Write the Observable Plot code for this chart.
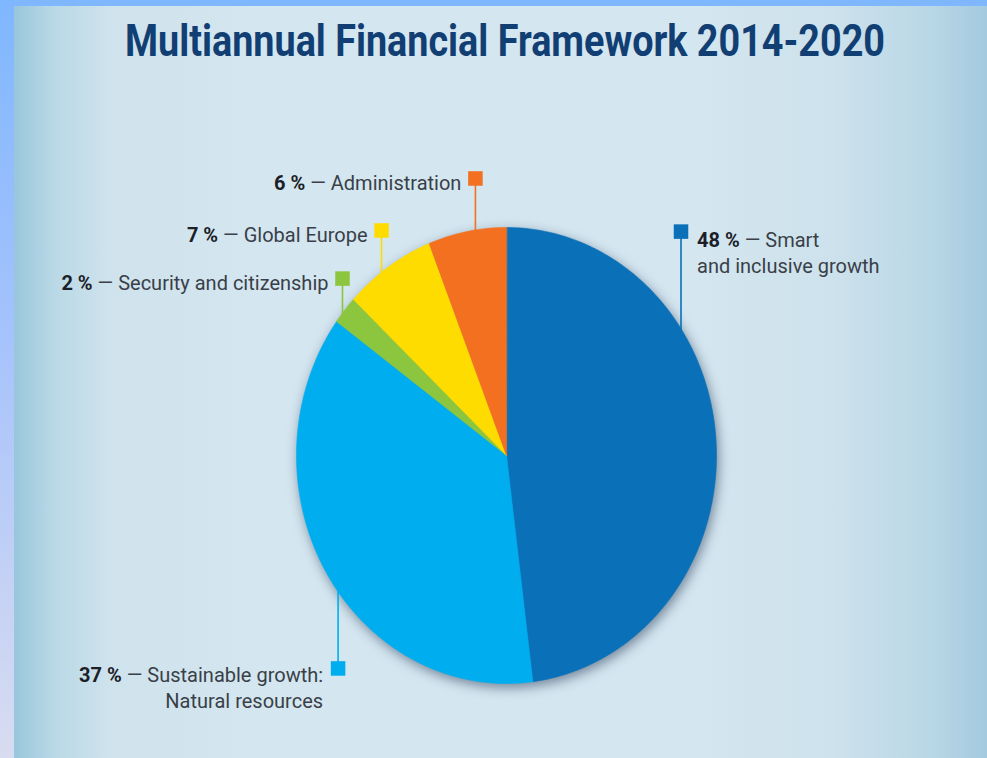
<!DOCTYPE html>
<html>
<head>
<meta charset="utf-8">
<script src="https://cdn.jsdelivr.net/npm/d3@7"></script>
<script src="https://cdn.jsdelivr.net/npm/@observablehq/plot@0.6"></script>
<style>
  html, body { margin: 0; padding: 0; }
  body {
    width: 987px; height: 758px; overflow: hidden; position: relative;
    background: linear-gradient(to bottom, #7fb7ff 0%, #a6c3fb 45%, #d8dcf0 100%);
    font-family: Roboto, "Open Sans", sans-serif;
  }
  #panel {
    position: absolute; left: 14px; top: 6px; width: 973px; height: 752px;
    background: linear-gradient(to right, #98c6dc 0%, #b9d8e6 4%, #cfe3ed 10%, #d4e6f0 25%, #d4e6f0 70%, #cde2ec 84%, #bad7e6 94%, #a3cadf 100%);
  }
  #content { position: absolute; left: 0; top: 0; width: 987px; height: 758px; }
  #title { height: 78px; margin: 0; position: relative; }
  #title span {
    position: absolute; left: 504.5px; top: 18px; white-space: nowrap;
    font-family: Roboto, sans-serif; font-weight: 700; font-size: 45px; line-height: 1;
    color: #123f73; transform-origin: center top;
  }
  #chart svg { display: block; overflow: visible; background: transparent; }
</style>
</head>
<body>
<div id="panel"></div>
<div id="content">
  <h1 id="title"><span>Multiannual Financial Framework 2014-2020</span></h1>
  <div id="chart"></div>
</div>
<script>
// ---- data ----
const categories = ["Smart and inclusive growth", "Sustainable growth: Natural resources", "Security and citizenship", "Global Europe", "Administration"];
const values = [48, 37, 2, 7, 6];
const labelNames = ["Smart\nand inclusive growth", "Sustainable growth:\nNatural resources", "Security and citizenship", "Global Europe", "Administration"];
const colors = ["#0a71b9", "#00adee", "#8cc63f", "#ffdc00", "#f37021"];

// ---- layout (label marker positions in pie-radius units) ----
const markerX = [0.831, -0.802, -0.781, -0.595, -0.148];
const markerY = [0.982, -0.934, 0.776, 0.987, 1.215];
const labelSide = ["right", "left", "left", "left", "left"];

// pie slice polygons on unit circle (stretched to an ellipse by the x/y scales)
const total = d3.sum(values);
const slices = [];
let cum = 0;
categories.forEach((c, i) => {
  const a0 = cum / total * 2 * Math.PI;
  cum += values[i];
  const a1 = cum / total * 2 * Math.PI;
  const n = Math.max(4, Math.ceil((a1 - a0) / (2 * Math.PI) * 360));
  const pts = [{cat: c, x: 0, y: 0}];
  for (let k = 0; k <= n; k++) {
    const a = a0 + (a1 - a0) * k / n;
    pts.push({cat: c, x: Math.sin(a), y: Math.cos(a)});
  }
  slices.push(pts);
});

const anchors = categories.map((c, i) => ({
  cat: c,
  x: markerX[i],
  y: markerY[i],
  yEdge: Math.sign(markerY[i]) * Math.sqrt(1 - markerX[i] ** 2) * 0.985,
  side: labelSide[i],
  multi: labelNames[i].includes("\n"),
  label: `${values[i]} % — ${labelNames[i]}`
}));

const textOpts = {x: "x", y: "y", text: "label", lineAnchor: "top", fontSize: 20, lineHeight: 1.3, fill: "#3a3f48", fontFamily: "Roboto, sans-serif"};

const W = 987, H = 680;
const chart = Plot.plot({
  width: W, height: H,
  marginLeft: 296, marginRight: 271, marginTop: 149, marginBottom: 75,
  x: {domain: [-1, 1], axis: null},
  y: {domain: [-1, 1], axis: null},
  color: {domain: categories, range: colors},
  style: {background: "transparent", overflow: "visible"},
  marks: [
    ...slices.map((pts, i) => Plot.line(pts, {x: "x", y: "y", fill: colors[i], stroke: colors[i], strokeWidth: 0.6, curve: "linear-closed"})),
    Plot.link(anchors, {x1: "x", y1: "y", x2: "x", y2: "yEdge", stroke: "cat", strokeWidth: 1.6}),
    Plot.dot(anchors, {x: "x", y: "y", symbol: "square", r: 8.2, fill: "cat", stroke: "none"}),
    Plot.text(anchors.filter(d => d.side === "left" && !d.multi), {...textOpts, textAnchor: "end", dx: -14, dy: -7}),
    Plot.text(anchors.filter(d => d.side === "left" && d.multi), {...textOpts, textAnchor: "end", dx: -15, dy: -5}),
    Plot.text(anchors.filter(d => d.side === "right"), {...textOpts, textAnchor: "start", dx: 16, dy: -3.5})
  ]
});
document.getElementById("chart").appendChild(chart);

// soft shadow around the pie
const lineGroups = chart.querySelectorAll('g[aria-label="line"]');
if (lineGroups.length) {
  const NSs = "http://www.w3.org/2000/svg";
  const wrap = document.createElementNS(NSs, "g");
  lineGroups[0].parentNode.insertBefore(wrap, lineGroups[0]);
  lineGroups.forEach(g => wrap.appendChild(g));
  wrap.style.filter = "drop-shadow(2px 4px 6px rgba(20,40,70,0.5))";
}

// bold percentage at the start of each label
const NS = "http://www.w3.org/2000/svg";
chart.querySelectorAll('g[aria-label="text"] text').forEach(t => {
  const node = t.querySelector("tspan") || t;
  const s = node.textContent;
  const idx = s.indexOf(" — ");
  if (idx < 0) return;
  node.textContent = "";
  const b = document.createElementNS(NS, "tspan");
  b.setAttribute("font-weight", "bold");
  b.setAttribute("fill", "#1c1e28");
  b.textContent = s.slice(0, idx);
  const r = document.createElementNS(NS, "tspan");
  r.textContent = s.slice(idx);
  node.appendChild(b);
  node.appendChild(r);
});

// condensed title to reference width
const ts = document.querySelector("#title span");
const tw = ts.getBoundingClientRect().width;
ts.style.transform = `translateX(-50%) scaleX(${760 / tw})`;
</script>
</body>
</html>
